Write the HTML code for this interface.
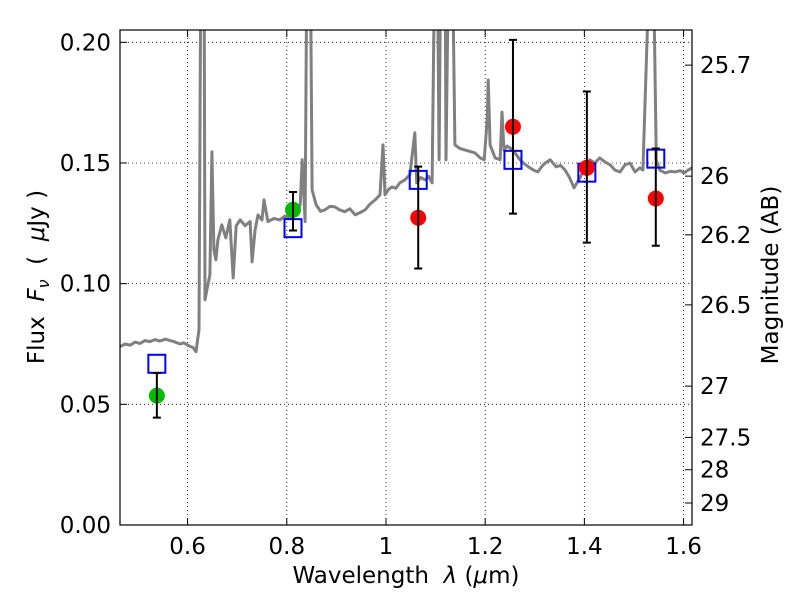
<!DOCTYPE html>
<html><head><meta charset="utf-8"><style>
body{margin:0;background:#fff}
svg{font-family:"DejaVu Sans","Liberation Sans",sans-serif}
</style></head><body>
<svg id="c" width="800" height="600" xmlns="http://www.w3.org/2000/svg"></svg>
<script>
const specLam=[0.464,0.474,0.484,0.494,0.504,0.514,0.524,0.534,0.544,0.555,0.565,0.575,0.585,0.592,0.599,0.605,0.611,0.617,0.623,0.627,0.633,0.635,0.639,0.645,0.649,0.653,0.657,0.661,0.669,0.677,0.685,0.692,0.698,0.706,0.716,0.726,0.730,0.736,0.742,0.750,0.754,0.762,0.774,0.786,0.796,0.806,0.819,0.827,0.831,0.837,0.841,0.847,0.851,0.859,0.868,0.877,0.887,0.897,0.907,0.917,0.927,0.938,0.948,0.958,0.968,0.978,0.988,0.994,0.998,1.005,1.012,1.020,1.028,1.038,1.048,1.054,1.058,1.062,1.070,1.079,1.086,1.093,1.099,1.103,1.107,1.111,1.119,1.121,1.127,1.133,1.139,1.149,1.159,1.169,1.179,1.190,1.198,1.204,1.206,1.210,1.220,1.230,1.234,1.238,1.244,1.250,1.260,1.270,1.280,1.290,1.298,1.306,1.314,1.321,1.331,1.343,1.352,1.361,1.370,1.379,1.391,1.401,1.411,1.421,1.431,1.441,1.452,1.462,1.472,1.482,1.492,1.502,1.512,1.518,1.534,1.538,1.545,1.552,1.563,1.573,1.583,1.593,1.601,1.609,1.617];
const specFlux=[0.0739,0.0750,0.0745,0.0758,0.0752,0.0764,0.0760,0.0768,0.0762,0.0770,0.0764,0.0758,0.0750,0.0755,0.0747,0.0740,0.0735,0.0718,0.0809,0.25,0.25,0.0933,0.0975,0.1037,0.1546,0.1140,0.1099,0.1182,0.1244,0.1190,0.1264,0.1024,0.1240,0.1264,0.1240,0.1257,0.1090,0.1223,0.1285,0.1264,0.1347,0.1257,0.1270,0.1264,0.1280,0.1273,0.1285,0.1327,0.1513,0.1257,0.25,0.25,0.1389,0.1327,0.1300,0.1306,0.1320,0.1318,0.1305,0.1298,0.1310,0.1285,0.1295,0.1306,0.1330,0.1347,0.1368,0.1575,0.1368,0.1390,0.1401,0.1395,0.1418,0.1430,0.1451,0.1554,0.1625,0.1418,0.1440,0.1430,0.1445,0.1418,0.25,0.25,0.1513,0.25,0.25,0.1513,0.25,0.25,0.1575,0.1560,0.1554,0.1548,0.1542,0.1521,0.1513,0.1679,0.1844,0.1575,0.1521,0.1513,0.1711,0.1554,0.1570,0.1563,0.1542,0.1513,0.1495,0.1480,0.1470,0.1463,0.1485,0.1500,0.1513,0.1484,0.1490,0.1471,0.1440,0.1397,0.1438,0.1480,0.1513,0.1500,0.1521,0.1505,0.1492,0.1470,0.1463,0.1492,0.1500,0.1463,0.1480,0.1471,0.25,0.25,0.1513,0.1470,0.1459,0.1465,0.1463,0.1468,0.1459,0.1470,0.1480,0.1513];
const photLam=[0.538,0.8125,1.065,1.256,1.405,1.544];
const photFlux=[0.0536,0.1306,0.1273,0.165,0.148,0.1353];
const photErrHi=[0.0630,0.1380,0.1485,0.201,0.1796,0.156];
const photErrLo=[0.0445,0.1220,0.1063,0.129,0.117,0.1157];
const photColor=['#00bb00','#00bb00','red','red','red','red'];
const modelFlux=[0.0668,0.123,0.143,0.1513,0.146,0.1518];
const xTicks=[0.6,0.8,1.0,1.2,1.4,1.6];
const xTickLabels=['0.6','0.8','1','1.2','1.4','1.6'];
const yTicks=[0,0.05,0.10,0.15,0.20];
const yTickLabels=['0.00','0.05','0.10','0.15','0.20'];
const magTicks=[25.7,26,26.2,26.5,27,27.5,28,29];
const magTickLabels=['25.7','26','26.2','26.5','27','27.5','28','29'];

const L=120,R=692,T=30,B=525;
const xmin=0.4637,xmax=1.617,ymin=0,ymax=0.2051;
const X=v=>L+(v-xmin)/(xmax-xmin)*(R-L);
const Y=v=>B-(v-ymin)/(ymax-ymin)*(B-T);
const NS='http://www.w3.org/2000/svg';
const svg=document.getElementById('c');
function mk(tag,attrs,parent){const e=document.createElementNS(NS,tag);for(const k in attrs)e.setAttribute(k,attrs[k]);(parent||svg).appendChild(e);return e;}

const defs=mk('defs',{});
const cp=mk('clipPath',{id:'clip'},defs);
mk('rect',{x:L,y:T,width:R-L,height:B-T},cp);

xTicks.forEach((t,i)=>{
  const g=mk('line',{x1:X(t),x2:X(t),y1:T,y2:B,stroke:'#000','stroke-width':0.8,'stroke-dasharray':'1,3'});
  
  
  const tk=mk('line',{x1:X(t),x2:X(t),y1:B,y2:B-7,stroke:'#000','stroke-width':1});
  
  
  const tk2=mk('line',{x1:X(t),x2:X(t),y1:T,y2:T+7,stroke:'#000','stroke-width':1});
  
  
  const tx=mk('text',{x:X(t),y:554,'font-size':23,'text-anchor':'middle'});
  tx.textContent=xTickLabels[i];
  
  
});
yTicks.forEach((t,i)=>{
  const g=mk('line',{x1:L,x2:R,y1:Y(t),y2:Y(t),stroke:'#000','stroke-width':0.8,'stroke-dasharray':'1,3'});
  
  
  const tk=mk('line',{x1:L,x2:L+7,y1:Y(t),y2:Y(t),stroke:'#000','stroke-width':1});
  
  
  const tx=mk('text',{x:111,y:Y(t)+8,'font-size':23,'text-anchor':'end'});
  tx.textContent=yTickLabels[i];
  
  
});
magTicks.forEach((m,i)=>{
  const f=Math.pow(10,(23.9-m)/2.5);
  const y=Y(f);
  const tk=mk('line',{x1:R-7,x2:R,y1:y,y2:y,stroke:'#000','stroke-width':1});
  
  
  const tx=mk('text',{x:700,y:y+8,'font-size':23,'text-anchor':'start'});
  tx.textContent=magTickLabels[i];
  
  
});

let d='';
specLam.forEach((l,i)=>{d+=(i?'L':'M')+X(l).toFixed(1)+','+Y(specFlux[i]).toFixed(1);});
const sp=mk('path',{d:d,fill:'none',stroke:'#808080','stroke-width':3,'stroke-linejoin':'round','clip-path':'url(#clip)'});



modelFlux.forEach((f,i)=>{
  const s=mk('rect',{x:X(photLam[i])-8.5,y:Y(f)-9,width:17,height:18,fill:'none',stroke:'#0000ff','stroke-width':2});
  
  
});
photLam.forEach((l,i)=>{
  const x=X(l);
  const c=mk('circle',{cx:x,cy:Y(photFlux[i]),r:8,fill:photColor[i]});
  
  
  const e=mk('path',{d:`M${x},${Y(photErrHi[i])}V${Y(photErrLo[i])}M${x-4},${Y(photErrHi[i])}h8M${x-4},${Y(photErrLo[i])}h8`,stroke:'#000','stroke-width':2,fill:'none'});
  
  
});

const fr=mk('rect',{x:L,y:T,width:R-L,height:B-T,fill:'none',stroke:'#000','stroke-width':1.2});



const xl=mk('text',{x:406,y:583,'font-size':23,'text-anchor':'middle','xml:space':'preserve'});
xl.setAttribute('style','white-space:pre');
xl.innerHTML='Wavelength  <tspan font-style="italic">λ</tspan> (<tspan font-style="italic">μ</tspan>m)';


const yl=mk('text',{x:0,y:0,'font-size':23,'text-anchor':'middle',transform:'translate(44,277) rotate(-90)'});
yl.setAttribute('style','white-space:pre');
yl.innerHTML='Flux  <tspan font-style="italic">F</tspan><tspan font-style="italic" font-size="16" dy="5">ν</tspan><tspan dy="-5">  (  </tspan><tspan font-style="italic">μ</tspan>Jy )';


const rl=mk('text',{x:0,y:0,'font-size':23,'text-anchor':'middle',transform:'translate(778,275) rotate(-90)'});
rl.textContent='Magnitude (AB)';


</script>
</body></html>
